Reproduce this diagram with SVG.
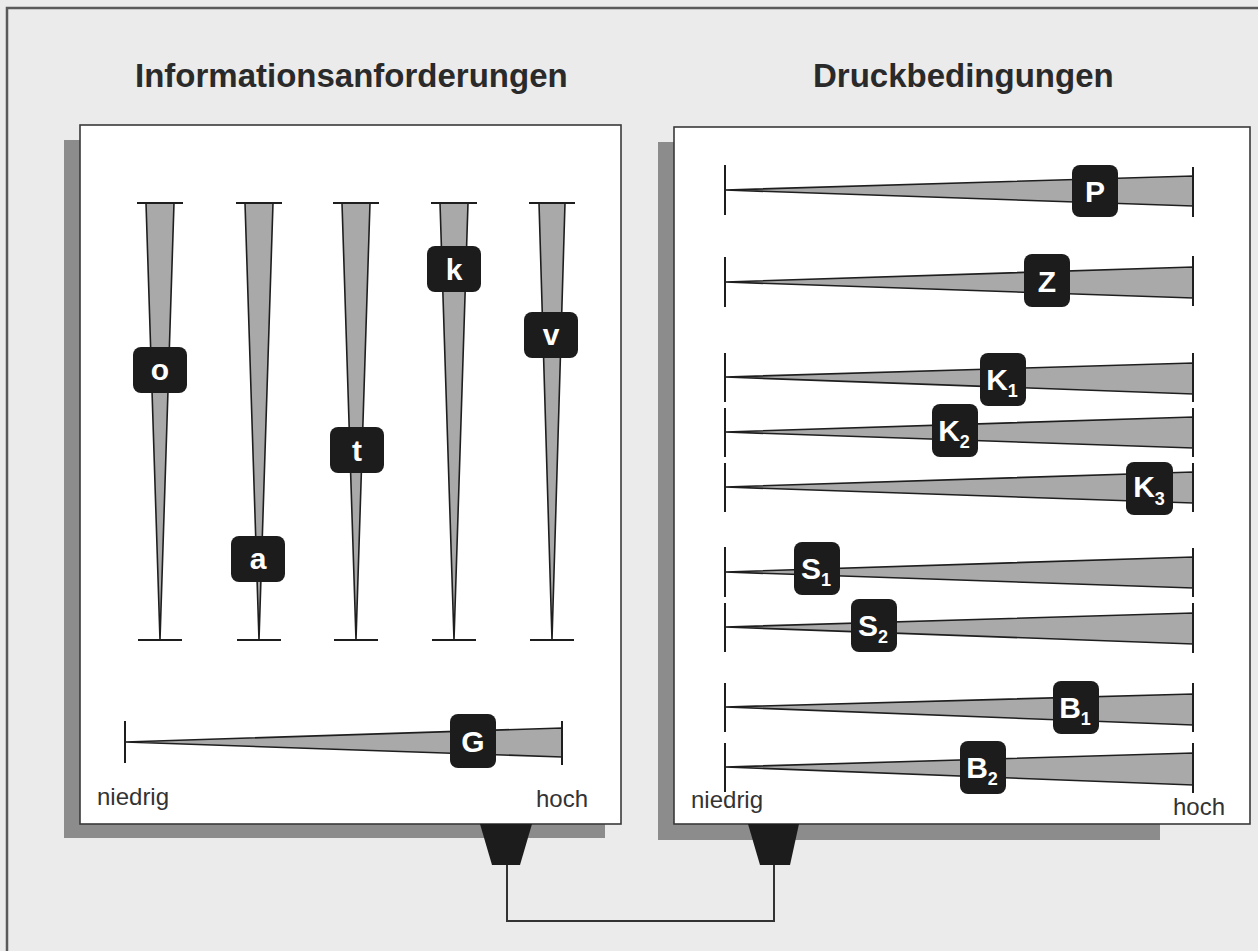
<svg xmlns="http://www.w3.org/2000/svg" width="1258" height="951" viewBox="0 0 1258 951">
<style>
.bg{fill:#ebebeb}
.frame{fill:none;stroke:#5a5a5a;stroke-width:2.5}
.panel{fill:#ffffff;stroke:#3a3a3a;stroke-width:1.6}
.shadow{fill:#8c8c8c}
.wedge{fill:#a9a9a9;stroke:#1e1e1e;stroke-width:1.6;stroke-linejoin:miter}
.tick{stroke:#1e1e1e;stroke-width:2;fill:none}
.box{fill:#1c1c1c}
.lbl{font-family:"Liberation Sans",Arial,sans-serif;font-weight:bold;font-size:30px;fill:#ffffff;text-anchor:middle}
.sub{font-size:18px}
.title{font-family:"Liberation Sans",Arial,sans-serif;font-weight:bold;font-size:33px;fill:#2a2a2a}
.scale{font-family:"Liberation Sans",Arial,sans-serif;font-size:24px;fill:#333333}
.conn{fill:none;stroke:#333333;stroke-width:2}
.plug{fill:#1c1c1c}
</style>
<rect class="bg" x="0" y="0" width="1258" height="951"/>
<path class="frame" d="M7,951 V8 H1258"/>

<g id="titles">
<text class="title" x="135" y="87">Informationsanforderungen</text>
<text class="title" x="813" y="87">Druckbedingungen</text>
</g>

<g id="panel-left">
<rect class="shadow" x="64" y="140" width="541" height="698"/>
<rect class="panel" x="80" y="125" width="541" height="699"/>
</g>
<g id="panel-right">
<rect class="shadow" x="658" y="142" width="502" height="698"/>
<rect class="panel" x="674" y="127" width="576" height="697"/>
</g>

<g id="connectors">
<polygon class="plug" points="480,824 532,824 520,865 492,865"/>
<polygon class="plug" points="748,824 799,824 790,865 760,865"/>
<path class="conn" d="M507,865 V921 H774 V865"/>
</g>

<g id="bar-o">
<polygon class="wedge" points="146,203 174,203 160,640"/>
<path class="tick" d="M137,203 H183 M138,640 H182"/>
<rect class="box" x="133" y="347" width="54" height="46" rx="8"/>
<text class="lbl" x="160" y="380">o</text>
</g>
<g id="bar-a">
<polygon class="wedge" points="245,203 273,203 259,640"/>
<path class="tick" d="M236,203 H282 M237,640 H281"/>
<rect class="box" x="231" y="536" width="54" height="46" rx="8"/>
<text class="lbl" x="258" y="569">a</text>
</g>
<g id="bar-t">
<polygon class="wedge" points="342,203 370,203 356,640"/>
<path class="tick" d="M333,203 H379 M334,640 H378"/>
<rect class="box" x="330" y="427" width="54" height="46" rx="8"/>
<text class="lbl" x="357" y="461">t</text>
</g>
<g id="bar-k">
<polygon class="wedge" points="440,203 468,203 454,640"/>
<path class="tick" d="M431,203 H477 M432,640 H476"/>
<rect class="box" x="427" y="246" width="54" height="46" rx="8"/>
<text class="lbl" x="454" y="280">k</text>
</g>
<g id="bar-v">
<polygon class="wedge" points="539,203 565,203 552,640"/>
<path class="tick" d="M529,203 H575 M530,640 H574"/>
<rect class="box" x="524" y="312" width="54" height="46" rx="8"/>
<text class="lbl" x="551" y="345">v</text>
</g>

<g id="bar-G">
<polygon class="wedge" points="125,742 562,728 562,757"/>
<path class="tick" d="M125,721 V763 M562,721 V765"/>
<rect class="box" x="450" y="714" width="46" height="54" rx="8"/>
<text class="lbl" x="473" y="752">G</text>
</g>

<g id="scale-left">
<text class="scale" x="97" y="805">niedrig</text>
<text class="scale" x="536" y="807">hoch</text>
</g>

<g id="bar-P">
<polygon class="wedge" points="725,190 1193,176 1193,206"/>
<path class="tick" d="M725,165 V215 M1193,167 V217"/>
<rect class="box" x="1072" y="165" width="46" height="52" rx="8"/>
<text class="lbl" x="1095" y="202">P</text>
</g>
<g id="bar-Z">
<polygon class="wedge" points="725,282 1193,267 1193,298"/>
<path class="tick" d="M725,257 V307 M1193,256 V306"/>
<rect class="box" x="1024" y="254" width="46" height="53" rx="8"/>
<text class="lbl" x="1047" y="292">Z</text>
</g>
<g id="bar-K1">
<polygon class="wedge" points="725,377 1193,363 1193,394"/>
<path class="tick" d="M725,353 V402 M1193,353 V402"/>
<rect class="box" x="980" y="353" width="46" height="53" rx="8"/>
<text class="lbl" x="1002" y="390">K<tspan class="sub" dy="7">1</tspan></text>
</g>
<g id="bar-K2">
<polygon class="wedge" points="725,432 1193,417 1193,448"/>
<path class="tick" d="M725,408 V457 M1193,408 V457"/>
<rect class="box" x="932" y="404" width="46" height="53" rx="8"/>
<text class="lbl" x="954" y="441">K<tspan class="sub" dy="7">2</tspan></text>
</g>
<g id="bar-K3">
<polygon class="wedge" points="725,487 1193,472 1193,503"/>
<path class="tick" d="M725,463 V512 M1193,463 V512"/>
<rect class="box" x="1126" y="462" width="47" height="53" rx="8"/>
<text class="lbl" x="1149" y="497">K<tspan class="sub" dy="8">3</tspan></text>
</g>
<g id="bar-S1">
<polygon class="wedge" points="725,572 1193,557 1193,588"/>
<path class="tick" d="M725,547 V597 M1193,548 V597"/>
<rect class="box" x="794" y="542" width="46" height="53" rx="8"/>
<text class="lbl" x="816" y="579">S<tspan class="sub" dy="7">1</tspan></text>
</g>
<g id="bar-S2">
<polygon class="wedge" points="725,627 1193,613 1193,644"/>
<path class="tick" d="M725,603 V652 M1193,603 V653"/>
<rect class="box" x="851" y="599" width="46" height="53" rx="8"/>
<text class="lbl" x="873" y="636">S<tspan class="sub" dy="7">2</tspan></text>
</g>
<g id="bar-B1">
<polygon class="wedge" points="725,707 1193,694 1193,725"/>
<path class="tick" d="M725,683 V732 M1193,683 V732"/>
<rect class="box" x="1053" y="681" width="46" height="53" rx="8"/>
<text class="lbl" x="1075" y="718">B<tspan class="sub" dy="7">1</tspan></text>
</g>
<g id="bar-B2">
<polygon class="wedge" points="725,767 1193,753 1193,785"/>
<path class="tick" d="M725,743 V792 M1193,743 V793"/>
<rect class="box" x="960" y="741" width="46" height="53" rx="8"/>
<text class="lbl" x="982" y="778">B<tspan class="sub" dy="7">2</tspan></text>
</g>

<g id="scale-right">
<text class="scale" x="691" y="808">niedrig</text>
<text class="scale" x="1173" y="815">hoch</text>
</g>
</svg>
